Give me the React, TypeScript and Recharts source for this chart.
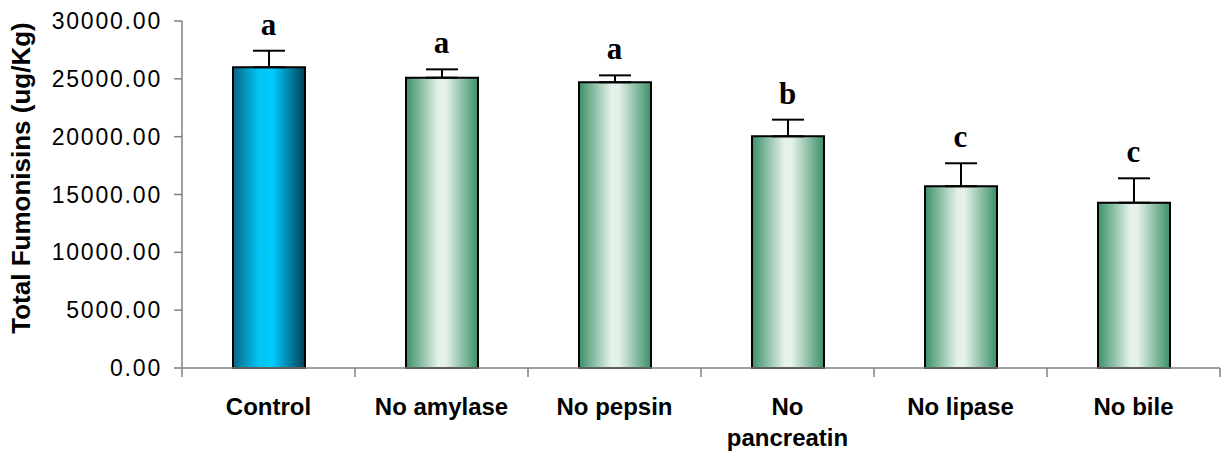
import {
  ComposedChart,
  Bar,
  Line,
  XAxis,
  YAxis,
  Cell,
  ErrorBar,
  LabelList,
} from "recharts"

const categories = ["Control", "No amylase", "No pepsin", "No pancreatin", "No lipase", "No bile"]
const means = [26000, 25100, 24700, 20030, 15710, 14290]
const errors = [1430, 720, 600, 1440, 1990, 2110]
const letters = ["a", "a", "a", "b", "c", "c"]
const yTicks = [0, 5000, 10000, 15000, 20000, 25000, 30000]

const data = categories.map((name, i) => ({
  name,
  value: means[i],
  err: [0, errors[i]],
  top: means[i] + errors[i],
  letter: letters[i],
}))

const sans = "'Liberation Sans', Arial, sans-serif"
const serif = "'Liberation Serif', 'Times New Roman', serif"

function CategoryTick(props: any) {
  const { x, y, payload, index } = props
  const half = payload.offset ?? 0
  const last = index === categories.length - 1
  const label = String(payload.value)
  // long names break onto two lines like in the original
  const lines = label.length > 11 ? label.split(" ") : [label]
  return (
    <g>
      <line x1={x - half} x2={x - half} y1={y} y2={y + 9} stroke="#808080" strokeWidth={1.5} />
      {last && <line x1={x + half} x2={x + half} y1={y} y2={y + 9} stroke="#808080" strokeWidth={1.5} />}
      <text
        x={x}
        y={y + 47}
        textAnchor="middle"
        fontFamily={sans}
        fontWeight="bold"
        fontSize={24}
        fill="#000"
      >
        {lines.map((ln, i) => (
          <tspan key={ln} x={x} dy={i === 0 ? 0 : 31}>
            {ln}
          </tspan>
        ))}
      </text>
    </g>
  )
}

function ValueTick(props: any) {
  const { x, y, payload } = props
  return (
    <text
      x={x}
      y={y}
      dy={8}
      textAnchor="end"
      fontFamily={sans}
      fontSize={23}
      letterSpacing={1.8}
      fill="#000"
    >
      {Number(payload.value).toFixed(2)}
    </text>
  )
}

function YTitle() {
  return (
    <text
      x={30}
      y={178}
      transform="rotate(-90 30 178)"
      textAnchor="middle"
      fontFamily={sans}
      fontWeight="bold"
      fontSize={26}
      fill="#000"
    >
      Total Fumonisins (ug/Kg)
    </text>
  )
}

export default function App() {
  return (
    <div style={{ position: "absolute", left: 0, top: 0, background: "#fff" }}>
      <ComposedChart
        width={1222}
        height={454}
        data={data}
        margin={{ top: 21, right: 2, bottom: 0, left: 0 }}
      >
        <defs>
          <linearGradient id="blueFill" x1="0" y1="0" x2="1" y2="0">
            <stop offset="0%" stopColor="#0a6585" />
            <stop offset="35%" stopColor="#00c4f4" />
            <stop offset="55%" stopColor="#00ccff" />
            <stop offset="100%" stopColor="#003f55" />
          </linearGradient>
          <linearGradient id="greenFill" x1="0" y1="0" x2="1" y2="0">
            <stop offset="0%" stopColor="#3b9068" />
            <stop offset="45%" stopColor="#e4f2ea" />
            <stop offset="55%" stopColor="#e4f2ea" />
            <stop offset="100%" stopColor="#3b9068" />
          </linearGradient>
        </defs>
        <XAxis
          dataKey="name"
          stroke="#808080"
          strokeWidth={1.5}
          tickLine={false}
          tickSize={0}
          tickMargin={0}
          tick={<CategoryTick />}
          interval={0}
          height={86}
        />
        <YAxis
          width={182}
          domain={[0, 30000]}
          ticks={yTicks}
          stroke="#808080"
          strokeWidth={1.5}
          tickSize={8}
          tickMargin={12}
          tick={<ValueTick />}
          label={<YTitle />}
        />
        <Bar dataKey="value" barSize={72} stroke="#000" strokeWidth={2} isAnimationActive={false}>
          {data.map((d, i) => (
            <Cell key={d.name} fill={i === 0 ? "url(#blueFill)" : "url(#greenFill)"} />
          ))}
          <ErrorBar dataKey="err" direction="y" width={16} stroke="#000" strokeWidth={2} />
        </Bar>
        <Line
          dataKey="top"
          stroke="none"
          dot={false}
          activeDot={false}
          isAnimationActive={false}
        >
          <LabelList
            dataKey="letter"
            position="top"
            offset={16}
            fontFamily={serif}
            fontWeight="bold"
            fontSize={31}
            fill="#000"
          />
        </Line>
      </ComposedChart>
    </div>
  )
}
